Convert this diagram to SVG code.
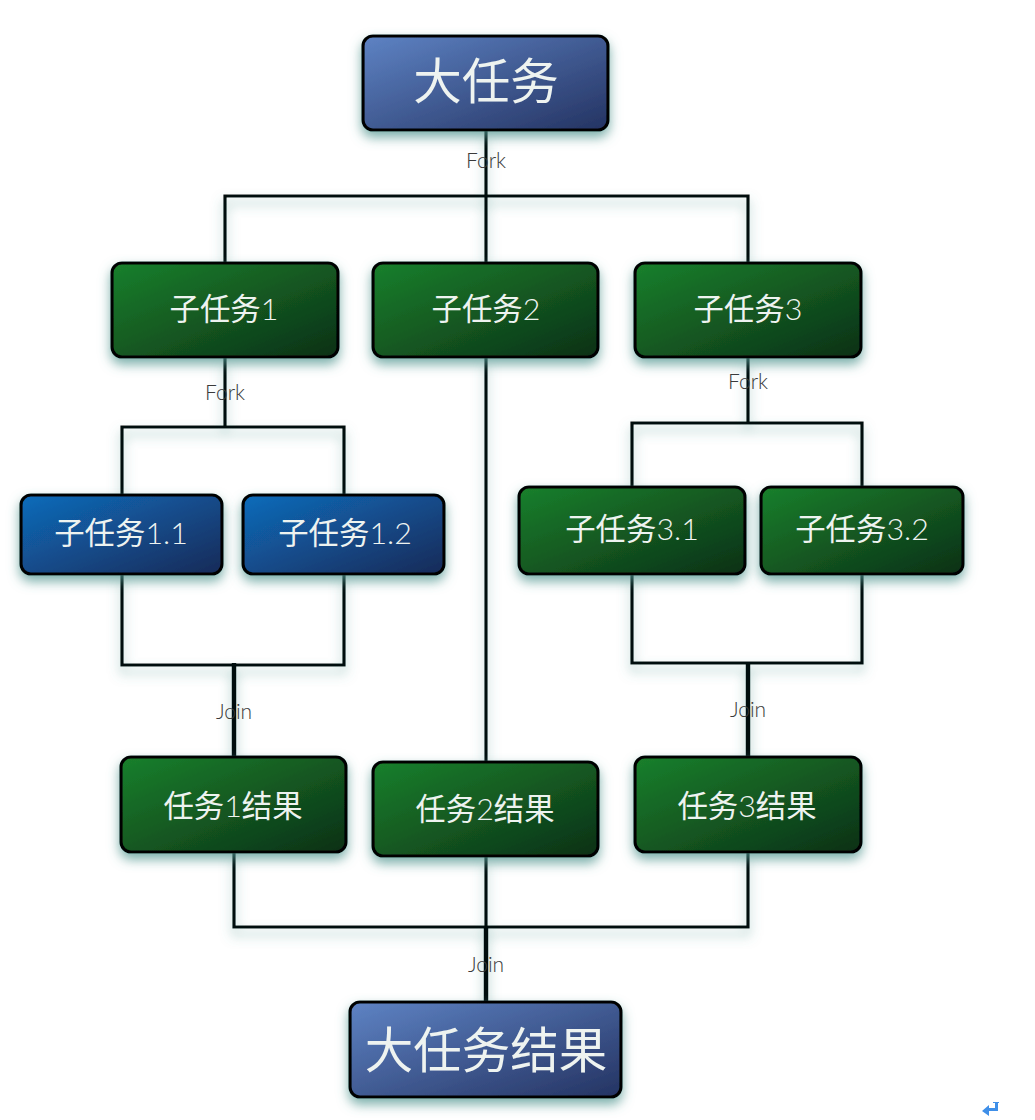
<svg xmlns="http://www.w3.org/2000/svg" width="1035" height="1120" viewBox="0 0 1035 1120">
<style>
.n{stroke:#030505;stroke-width:3.2}
.b{fill:url(#gb)}.g{fill:url(#gg)}.s{fill:url(#gs)}
text{font-family:"Lato","Noto Sans CJK SC",sans-serif;text-anchor:middle}
.t{fill:#eef3f0;font-size:30.4px}
.l{fill:#eef3f0;font-size:48.5px}
.e{fill:#3a3a3a;font-size:21px;font-weight:300}
.d{font-weight:300}
.c{fill:none;stroke:#050808;stroke-width:3.2;stroke-linejoin:miter}
</style>
<defs>
<linearGradient id="gb" x1="0" y1="0" x2="1" y2="1"><stop offset="0" stop-color="#5e83c4"/><stop offset="1" stop-color="#243362"/></linearGradient>
<linearGradient id="gg" x1="0" y1="0" x2="1" y2="1"><stop offset="0" stop-color="#1a802c"/><stop offset="1" stop-color="#0c3016"/></linearGradient>
<linearGradient id="gs" x1="0" y1="0" x2="1" y2="1"><stop offset="0" stop-color="#0f6cbb"/><stop offset="1" stop-color="#172a58"/></linearGradient>
<filter id="sh" x="-20%" y="-20%" width="140%" height="150%"><feDropShadow dx="0" dy="6" stdDeviation="6" flood-color="#4f948e" flood-opacity=".75"/></filter>
<filter id="shl" x="-5%" y="-5%" width="110%" height="115%"><feDropShadow dx="0" dy="7" stdDeviation="6" flood-color="#4f948e" flood-opacity=".55"/></filter>
</defs>
<g id="connectors" filter="url(#shl)">
<path class="c" d="M486 130V262M225 262V196H748V262"/>
<path class="c" d="M225 357V427M122 495V427H344V495"/>
<path class="c" d="M748 357V423M632 487V423H862V487"/>
<path class="c" d="M486 357V762"/>
<path class="c" d="M122 574V665H344V574"/>
<path class="c" d="M632 574V663H862V574"/>
<path class="c" d="M234 852V927H748V852M486 856V927"/>
<path class="c" style="stroke-width:4.5" d="M486 927V1002M234 663V757M748 663V757"/>
</g>
<g id="fork-label-1"><text class="e" x="486" y="168">Fork</text></g>
<g id="fork-label-2"><text class="e" x="225" y="400">Fork</text></g>
<g id="fork-label-3"><text class="e" x="748" y="389">Fork</text></g>
<g id="join-label-1"><text class="e" x="234" y="719">Join</text></g>
<g id="join-label-2"><text class="e" x="748" y="717">Join</text></g>
<g id="join-label-3"><text class="e" x="486" y="972">Join</text></g>
<g id="big-task"><rect class="n b" filter="url(#sh)" x="363" y="36" width="245" height="94" rx="10"/><text class="l" x="486" y="99">大任务</text></g>
<g id="sub1"><rect class="n g" filter="url(#sh)" x="112" y="263" width="226" height="94" rx="10"/><text class="t" x="224" y="320">子任务<tspan class="d">1</tspan></text></g>
<g id="sub2"><rect class="n g" filter="url(#sh)" x="373" y="263" width="225" height="94" rx="10"/><text class="t" x="486" y="320">子任务<tspan class="d">2</tspan></text></g>
<g id="sub3"><rect class="n g" filter="url(#sh)" x="635" y="263" width="226" height="94" rx="10"/><text class="t" x="748" y="320">子任务<tspan class="d">3</tspan></text></g>
<g id="sub11"><rect class="n s" filter="url(#sh)" x="21" y="495" width="201" height="79" rx="10"/><text class="t" x="121" y="544">子任务<tspan class="d">1.1</tspan></text></g>
<g id="sub12"><rect class="n s" filter="url(#sh)" x="243" y="495" width="201" height="79" rx="10"/><text class="t" x="345" y="544">子任务<tspan class="d">1.2</tspan></text></g>
<g id="sub31"><rect class="n g" filter="url(#sh)" x="519" y="487" width="226" height="87" rx="10"/><text class="t" x="632" y="540">子任务<tspan class="d">3.1</tspan></text></g>
<g id="sub32"><rect class="n g" filter="url(#sh)" x="761" y="487" width="202" height="87" rx="10"/><text class="t" x="862" y="540">子任务<tspan class="d">3.2</tspan></text></g>
<g id="res1"><rect class="n g" filter="url(#sh)" x="121" y="757" width="225" height="95" rx="10"/><text class="t" x="233" y="817">任务<tspan class="d">1</tspan>结果</text></g>
<g id="res2"><rect class="n g" filter="url(#sh)" x="373" y="762" width="225" height="94" rx="10"/><text class="t" x="485" y="820">任务<tspan class="d">2</tspan>结果</text></g>
<g id="res3"><rect class="n g" filter="url(#sh)" x="635" y="757" width="226" height="95" rx="10"/><text class="t" x="747" y="817">任务<tspan class="d">3</tspan>结果</text></g>
<g id="big-result"><rect class="n b" filter="url(#sh)" x="350" y="1002" width="271" height="95" rx="10"/><text class="l" x="486" y="1068">大任务结果</text></g>
<path id="return-mark" fill="#3f8fe8" d="M982 1111l7-6v3h6v-5h-2v-1h6v1h-1v8h-9v5z"/>
</svg>
